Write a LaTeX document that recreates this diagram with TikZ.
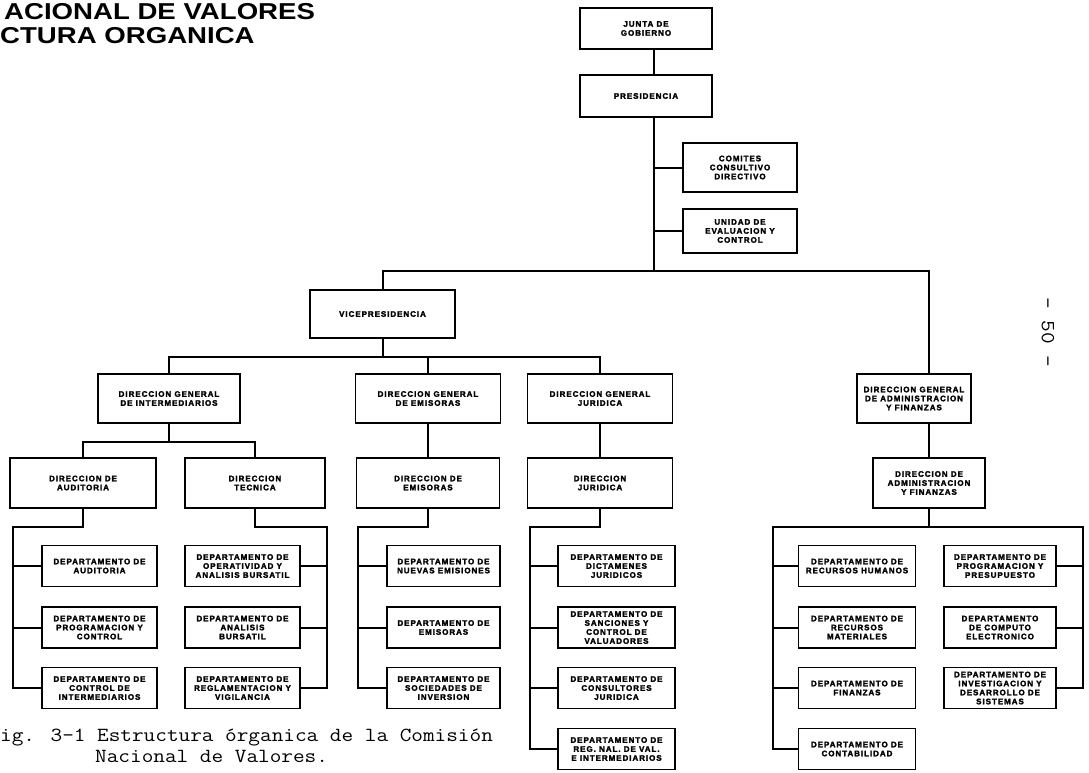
\documentclass[tikz,border=0pt]{standalone}
\usepackage{fontspec}
\usepackage{graphicx}
\newfontfamily\bxfont{Liberation Sans}[LetterSpace=12, BoldFeatures={FakeBold=2.5}]
\newfontfamily\ttlfont{Liberation Sans}
\tikzset{
  orgbox/.style={draw, line width=1.7pt, inner sep=1pt, align=center,
     font=\bxfont\bfseries\fontsize{8}{9}\selectfont},
  dept/.style={orgbox, minimum height=41},
  conn/.style={line width=2pt},
  ttl/.style={anchor=base west, inner sep=0pt, font=\ttlfont\bfseries\fontsize{23}{24}\selectfont},
  capt/.style={inner sep=0pt, font=\ttfamily\fontsize{20}{22}\selectfont},
}
\begin{document}
\begin{tikzpicture}[x=1pt,y=-1pt]
\useasboundingbox (0,0) rectangle (1089,772);

% title and caption
\node[ttl] (t1) at (4,19) {\scalebox{1.2}[1]{ACIONAL DE VALORES}};
\node[ttl] (t2) at (0,43) {\scalebox{1.2}[1]{CTURA ORGANICA}};
\node[capt, anchor=base west] (c1) at (0,741) {\scalebox{1.13}[1]{ig. 3-1 Estructura órganica de la Comisión}};
\node[capt, anchor=base west] (c2) at (95,762) {\scalebox{1.13}[1]{Nacional de Valores.}};
\node[capt, rotate=-90] (pg) at (1048,332) {\scalebox{1.13}[1]{- 50 -}};

% top
\node[orgbox, minimum width=132, minimum height=41] (junta) at (646,28.5) {JUNTA DE\\GOBIERNO};
\node[orgbox, minimum width=132, minimum height=42] (pres) at (646,96) {PRESIDENCIA};
\node[orgbox, minimum width=114, minimum height=49] (comites) at (740,167.5) {COMITES\\CONSULTIVO\\DIRECTIVO};
\node[orgbox, minimum width=114, minimum height=44] (unidad) at (740,231) {UNIDAD DE\\EVALUACION Y\\CONTROL};
\node[orgbox, minimum width=145, minimum height=48] (vice) at (382.5,314) {VICEPRESIDENCIA};

% direcciones generales
\node[orgbox, minimum width=142, minimum height=49] (dgint) at (169,398.5) {DIRECCION GENERAL\\DE INTERMEDIARIOS};
\node[orgbox, minimum width=145, minimum height=49] (dgemi) at (428,398.5) {DIRECCION GENERAL\\DE EMISORAS};
\node[orgbox, minimum width=145, minimum height=49] (dgjur) at (600,398.5) {DIRECCION GENERAL\\JURIDICA};
\node[orgbox, minimum width=114, minimum height=49] (dgadm) at (914,398.5) {DIRECCION GENERAL\\DE ADMINISTRACION\\Y FINANZAS};

% direcciones
\node[orgbox, minimum width=146, minimum height=50] (diraud) at (83,483) {DIRECCION DE\\AUDITORIA};
\node[orgbox, minimum width=140, minimum height=50] (dirtec) at (255,483) {DIRECCION\\TECNICA};
\node[orgbox, minimum width=143, minimum height=50] (diremi) at (428,483) {DIRECCION DE\\EMISORAS};
\node[orgbox, minimum width=145, minimum height=50] (dirjur) at (600,483) {DIRECCION\\JURIDICA};
\node[orgbox, minimum width=112, minimum height=50] (diradm) at (929,483) {DIRECCION DE\\ADMINISTRACION\\Y FINANZAS};

% departamentos: auditoria
\node[dept, minimum width=115] (aud1) at (99.5,566) {DEPARTAMENTO DE\\AUDITORIA};
\node[dept, minimum width=115] (aud2) at (99.5,627.5) {DEPARTAMENTO DE\\PROGRAMACION Y\\CONTROL};
\node[dept, minimum width=115] (aud3) at (99.5,688) {DEPARTAMENTO DE\\CONTROL DE\\INTERMEDIARIOS};
% tecnica
\node[dept, minimum width=115] (tec1) at (242.5,566) {DEPARTAMENTO DE\\OPERATIVIDAD Y\\ANALISIS BURSATIL};
\node[dept, minimum width=115] (tec2) at (242.5,627.5) {DEPARTAMENTO DE\\ANALISIS\\BURSATIL};
\node[dept, minimum width=115] (tec3) at (242.5,688) {DEPARTAMENTO DE\\REGLAMENTACION Y\\VIGILANCIA};
% emisoras
\node[dept, minimum width=113] (emi1) at (443.5,566) {DEPARTAMENTO DE\\NUEVAS EMISIONES};
\node[dept, minimum width=113] (emi2) at (443.5,627.5) {DEPARTAMENTO DE\\EMISORAS};
\node[dept, minimum width=113] (emi3) at (443.5,688) {DEPARTAMENTO DE\\SOCIEDADES DE\\INVERSION};
% juridica
\node[dept, minimum width=117] (jur1) at (616.5,566) {DEPARTAMENTO DE\\DICTAMENES\\JURIDICOS};
\node[dept, minimum width=117] (jur2) at (616.5,627.5) {DEPARTAMENTO DE\\SANCIONES Y\\CONTROL DE\\VALUADORES};
\node[dept, minimum width=117] (jur3) at (616.5,688) {DEPARTAMENTO DE\\CONSULTORES\\JURIDICA};
\node[dept, minimum width=117] (jur4) at (616.5,749) {DEPARTAMENTO DE\\REG. NAL. DE VAL.\\E INTERMEDIARIOS};
% administracion
\node[dept, minimum width=117] (adl1) at (857,566) {DEPARTAMENTO DE\\RECURSOS HUMANOS};
\node[dept, minimum width=117] (adl2) at (857,627.5) {DEPARTAMENTO DE\\RECURSOS\\MATERIALES};
\node[dept, minimum width=117] (adl3) at (857,688) {DEPARTAMENTO DE\\FINANZAS};
\node[dept, minimum width=117] (adl4) at (857,749) {DEPARTAMENTO DE\\CONTABILIDAD};
\node[dept, minimum width=112] (adr1) at (1000,566) {DEPARTAMENTO DE\\PROGRAMACION Y\\PRESUPUESTO};
\node[dept, minimum width=112] (adr2) at (1000,627.5) {DEPARTAMENTO\\DE COMPUTO\\ELECTRONICO};
\node[dept, minimum width=112] (adr3) at (1000,688) {DEPARTAMENTO DE\\INVESTIGACION Y\\DESARROLLO DE\\SISTEMAS};

% bus coordinates
\coordinate (hub) at (654,271);
\coordinate (b2) at (382.5,357);
\coordinate (b3) at (169,442);
\coordinate (audbus) at (13,527);
\coordinate (tecbus) at (327,527);
\coordinate (emibus) at (358,527);
\coordinate (jurbus) at (530,527);
\coordinate (adlbus) at (773,527);
\coordinate (adrbus) at (1083,527);

% connectors
\draw[conn] (junta.south -| hub) -- (pres.north -| hub);
\draw[conn] (pres.south -| hub) -- (hub);
\draw[conn] (comites.west) -- (comites.west -| hub);
\draw[conn] (unidad.west) -- (unidad.west -| hub);
\draw[conn] (vice.north) |- (hub) -| (dgadm.north -| diradm.north);
\draw[conn] (dgadm.south -| diradm.north) -- (diradm.north);
\draw[conn] (vice.south) -- (b2);
\draw[conn] (dgint.north) |- (b2);
\draw[conn] (dgemi.north) |- (b2);
\draw[conn] (dgjur.north) |- (b2);
\draw[conn] (dgint.south) -- (b3);
\draw[conn] (diraud.north) |- (b3);
\draw[conn] (dirtec.north) |- (b3);
\draw[conn] (dgemi) -- (diremi);
\draw[conn] (dgjur) -- (dirjur);

\draw[conn] (diraud.south) |- (audbus) |- (aud3.west);
\draw[conn] (aud1.west) -- (aud1.west -| audbus);
\draw[conn] (aud2.west) -- (aud2.west -| audbus);

\draw[conn] (dirtec.south) |- (tecbus) |- (tec3.east);
\draw[conn] (tec1.east) -- (tec1.east -| tecbus);
\draw[conn] (tec2.east) -- (tec2.east -| tecbus);

\draw[conn] (diremi.south) |- (emibus) |- (emi3.west);
\draw[conn] (emi1.west) -- (emi1.west -| emibus);
\draw[conn] (emi2.west) -- (emi2.west -| emibus);

\draw[conn] (dirjur.south) |- (jurbus) |- (jur4.west);
\draw[conn] (jur1.west) -- (jur1.west -| jurbus);
\draw[conn] (jur2.west) -- (jur2.west -| jurbus);
\draw[conn] (jur3.west) -- (jur3.west -| jurbus);

\draw[conn] (diradm.south) -- (diradm.south |- adlbus);
\draw[conn] (adl4.west) -| (adlbus) -- (adrbus) |- (adr3.east);
\draw[conn] (adl1.west) -- (adl1.west -| adlbus);
\draw[conn] (adl2.west) -- (adl2.west -| adlbus);
\draw[conn] (adl3.west) -- (adl3.west -| adlbus);
\draw[conn] (adr1.east) -- (adr1.east -| adrbus);
\draw[conn] (adr2.east) -- (adr2.east -| adrbus);
\end{tikzpicture}
\end{document}
